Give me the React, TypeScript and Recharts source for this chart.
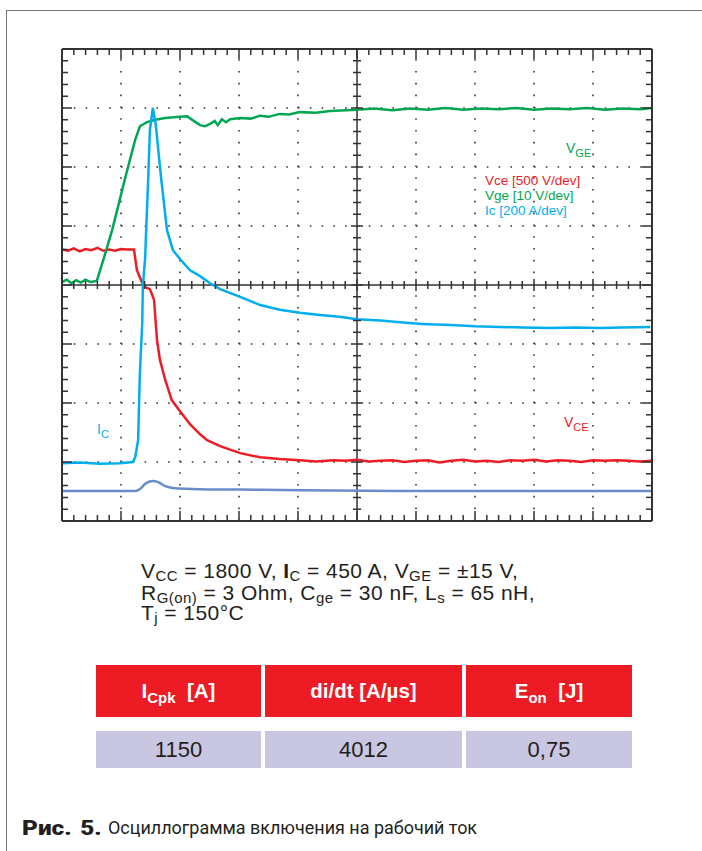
import React from "react";
import { LineChart, Line, XAxis, YAxis, ReferenceLine } from "recharts";

// Scope screen is read in divisions: 10 horizontal, 8 vertical (0 = bottom)
const vceTime = [0, 0.1, 0.2, 0.3, 0.4, 0.5, 0.6, 0.7, 0.8, 0.9, 1.0, 1.1, 1.22, 1.27, 1.34, 1.39, 1.44, 1.49, 1.56, 1.61, 1.66, 1.75, 1.86, 2.0, 2.17, 2.34, 2.46, 2.68, 3.02, 3.36, 3.69, 4.03, 4.3, 4.6, 4.8, 5.0, 5.2, 5.4, 5.6, 5.8, 6.0, 6.2, 6.4, 6.6, 6.8, 7.0, 7.2, 7.4, 7.6, 7.8, 8.0, 8.2, 8.4, 8.6, 8.8, 9.0, 9.2, 9.4, 9.6, 9.8, 10];
const vceDiv = [4.6, 4.58, 4.62, 4.57, 4.61, 4.59, 4.63, 4.58, 4.6, 4.58, 4.61, 4.6, 4.6, 4.25, 4.08, 3.98, 3.95, 3.93, 3.75, 3.07, 2.73, 2.39, 2.05, 1.86, 1.64, 1.47, 1.37, 1.27, 1.15, 1.08, 1.05, 1.03, 1.01, 1.03, 1.02, 1.04, 1.01, 1.02, 1.03, 1.0, 1.02, 1.03, 0.99, 1.02, 1.04, 1.01, 1.02, 1.0, 1.03, 1.02, 1.04, 1.01, 1.03, 1.02, 1.0, 1.03, 1.02, 1.03, 1.02, 1.01, 1.02];

const vgeTime = [0, 0.08, 0.16, 0.24, 0.32, 0.4, 0.48, 0.59, 0.69, 0.85, 1.07, 1.24, 1.32, 1.44, 1.58, 1.75, 2.0, 2.12, 2.22, 2.34, 2.42, 2.51, 2.59, 2.64, 2.71, 2.78, 2.85, 3.02, 3.2, 3.36, 3.5, 3.69, 3.85, 4.03, 4.3, 4.54, 5.0, 5.3, 5.6, 5.9, 6.2, 6.5, 6.8, 7.1, 7.4, 7.7, 8.0, 8.3, 8.6, 8.9, 9.2, 9.5, 9.8, 10];
const vgeDiv = [4.05, 4.09, 4.03, 4.08, 4.04, 4.09, 4.05, 4.07, 4.39, 4.93, 5.81, 6.46, 6.69, 6.76, 6.8, 6.83, 6.85, 6.86, 6.79, 6.71, 6.69, 6.73, 6.78, 6.71, 6.81, 6.76, 6.81, 6.83, 6.82, 6.87, 6.85, 6.9, 6.89, 6.93, 6.92, 6.95, 6.97, 6.99, 6.96, 6.99, 6.97, 7.0, 6.97, 6.99, 6.98, 7.0, 6.97, 6.99, 6.98, 7.0, 6.97, 6.99, 6.98, 7.0];

const icTime = [0, 0.3, 0.64, 0.98, 1.2, 1.24, 1.29, 1.32, 1.36, 1.37, 1.41, 1.42, 1.46, 1.49, 1.54, 1.59, 1.68, 1.78, 1.83, 1.88, 2.0, 2.17, 2.34, 2.51, 2.68, 3.02, 3.36, 3.69, 4.03, 4.37, 4.7, 5.0, 5.4, 5.73, 6.1, 6.58, 7.0, 7.42, 7.8, 8.27, 8.7, 9.12, 9.5, 9.97];
const icDiv = [0.98, 0.99, 0.97, 0.98, 1.0, 1.08, 1.37, 2.51, 3.36, 3.97, 4.47, 4.76, 5.78, 6.63, 7.0, 6.71, 5.81, 4.93, 4.76, 4.59, 4.44, 4.25, 4.15, 4.03, 3.93, 3.8, 3.66, 3.58, 3.53, 3.49, 3.46, 3.42, 3.4, 3.37, 3.34, 3.32, 3.3, 3.29, 3.28, 3.27, 3.28, 3.27, 3.28, 3.29];

const gateTime = [0, 1.24, 1.32, 1.41, 1.53, 1.63, 1.75, 1.88, 2.34, 3.36, 5.73, 10];
const gateDiv = [0.51, 0.51, 0.54, 0.63, 0.68, 0.66, 0.59, 0.56, 0.54, 0.53, 0.51, 0.51];

const xTicks = Array.from({ length: 51 }, (_, i) => +(i * 0.2).toFixed(1));
const yTicks = Array.from({ length: 41 }, (_, i) => +(i * 0.2).toFixed(1));
const xGrid = [1, 2, 3, 4, 6, 7, 8, 9];
const yGrid = [1, 2, 3, 5, 6, 7];

const toPoints = (t: number[], v: number[]) => t.map((x, i) => ({ t: x, v: v[i] }));

// plot box of the scope screen
const PL = 62, PT = 49, PW = 590, PH = 472;
const CW = 702, CH = 540;
const AX = 20; // room given to every axis
const M = { top: PT - AX, left: PL - AX, right: CW - PL - PW - AX, bottom: CH - PT - PH - AX };
const CX = PL + PW / 2;
const CY = PT + PH / 2;
const INK = "#333";

const RED = "#ee1c25";
const GREEN = "#00a651";
const CYAN = "#00aeef";
const SLATE = "#6b8cc9";

function makeTick(side: "bottom" | "top" | "left" | "right") {
  return (props: any) => {
    const { x, y, payload } = props;
    const val = payload.value;
    const major = Math.abs(val - Math.round(val)) < 1e-6;
    const len = major ? 10 : 6;
    const c = major ? 6 : 4;
    let d = "";
    if (side === "bottom") {
      d = `M${x},${y}V${y - len}`;
      if (val > 0 && val < 10) d += `M${x},${CY - c}V${CY + c}`;
    } else if (side === "top") {
      d = `M${x},${y}V${y + len}`;
    } else if (side === "left") {
      d = `M${x},${y}H${x + len}`;
      if (val > 0 && val < 8) d += `M${CX - c},${y}H${CX + c}`;
    } else {
      d = `M${x},${y}H${x - len}`;
    }
    return <path d={d} stroke={INK} strokeWidth={1.5} fill="none" />;
  };
}

const Sub = ({ children, size = "0.75em", drop = "-0.3em" }: any) => (
  <span style={{ fontSize: size, verticalAlign: drop, lineHeight: 0 }}>{children}</span>
);

function Scope() {
  const axisLine = { stroke: INK, strokeWidth: 2 };
  const common = { type: "number" as const, interval: 0 as const, tickSize: 0, tickMargin: 0, tickLine: false, axisLine, allowDataOverflow: true };
  return (
    <LineChart width={CW} height={CH} margin={M}>
      <XAxis {...common} xAxisId="b" dataKey="t" domain={[0, 10]} ticks={xTicks} height={AX} tick={makeTick("bottom")} />
      <XAxis {...common} xAxisId="t" orientation="top" dataKey="t" domain={[0, 10]} ticks={xTicks} height={AX} tick={makeTick("top")} />
      <YAxis {...common} yAxisId="l" domain={[0, 8]} ticks={yTicks} width={AX} tick={makeTick("left")} />
      <YAxis {...common} yAxisId="r" orientation="right" domain={[0, 8]} ticks={yTicks} width={AX} tick={makeTick("right")} />

      {xGrid.map((g) => (
        <ReferenceLine key={`gx${g}`} xAxisId="b" yAxisId="l" x={g} stroke={INK} strokeWidth={1.6} strokeDasharray="1.6 10.2" />
      ))}
      {yGrid.map((g) => (
        <ReferenceLine key={`gy${g}`} xAxisId="b" yAxisId="l" y={g} stroke={INK} strokeWidth={1.6} strokeDasharray="1.6 10.2" />
      ))}
      <ReferenceLine xAxisId="b" yAxisId="l" x={5} stroke={INK} strokeWidth={1.5} />
      <ReferenceLine xAxisId="b" yAxisId="l" y={4} stroke={INK} strokeWidth={1.5} />

      <Line xAxisId="t" yAxisId="r" data={toPoints(gateTime, gateDiv)} dataKey="v" type="monotone"
        stroke={SLATE} strokeWidth={2.5} dot={false} isAnimationActive={false} />
      <Line xAxisId="b" yAxisId="l" data={toPoints(vceTime, vceDiv)} dataKey="v" type="linear"
        stroke={RED} strokeWidth={2.5} dot={false} isAnimationActive={false} />
      <Line xAxisId="b" yAxisId="l" data={toPoints(vgeTime, vgeDiv)} dataKey="v" type="linear"
        stroke={GREEN} strokeWidth={2.5} dot={false} isAnimationActive={false} />
      <Line xAxisId="b" yAxisId="l" data={toPoints(icTime, icDiv)} dataKey="v" type="linear"
        stroke={CYAN} strokeWidth={2.5} dot={false} isAnimationActive={false} />
    </LineChart>
  );
}

const sans = "'Liberation Sans', Arial, sans-serif";

export default function App() {
  const abs = (left: number, top: number, extra: React.CSSProperties = {}): React.CSSProperties => ({
    position: "absolute", left, top, whiteSpace: "nowrap", ...extra,
  });
  const cellHead: React.CSSProperties = {
    position: "absolute", top: 665, height: 52, background: "#ed1c24", color: "#fff",
    fontFamily: sans, fontWeight: 700, fontSize: 20.5, display: "flex", alignItems: "center", justifyContent: "center",
  };
  const cellBody: React.CSSProperties = {
    position: "absolute", top: 731, height: 37, background: "#c9c6e1", color: "#231f20",
    fontFamily: sans, fontSize: 22, display: "flex", alignItems: "center", justifyContent: "center",
  };
  const params: React.CSSProperties = { fontFamily: sans, fontSize: 21, lineHeight: "21px", letterSpacing: "0.45px", color: "#231f20" };
  const ps = { size: "15px", drop: "-3px" };
  const legend: React.CSSProperties = { fontSize: 13.5, lineHeight: "15px" };
  const tag: React.CSSProperties = { fontSize: 14, lineHeight: "14px" };
  const caption: React.CSSProperties = { fontFamily: "Roboto, sans-serif", lineHeight: "20px", color: "#231f20" };

  return (
    <div style={{ position: "absolute", left: 0, top: 0, width: 702, height: 851, background: "#fff", overflow: "hidden", fontFamily: sans }}>
      <div style={{ position: "absolute", left: 6, top: 10, right: 0, bottom: 0, borderLeft: "1.5px solid #777", borderTop: "1.5px solid #777" }} />
      <div style={{ position: "absolute", left: 0, top: 0 }}>
        <Scope />
      </div>

      <div style={abs(566, 141, { ...tag, color: GREEN })}>V<Sub size="11px" drop="-4px">GE</Sub></div>
      <div style={abs(485, 173, { ...legend, color: RED })}>Vce [500 V/dev]</div>
      <div style={abs(485, 188, { ...legend, color: GREEN })}>Vge [10 V/dev]</div>
      <div style={abs(485, 203, { ...legend, color: CYAN })}>Ic [200 A/dev]</div>
      <div style={abs(97, 422, { ...tag, color: CYAN })}>I<Sub size="11px" drop="-4px">C</Sub></div>
      <div style={abs(564, 415, { ...tag, color: RED })}>V<Sub size="11px" drop="-4px">CE</Sub></div>

      <div style={abs(141, 560, params)}>
        V<Sub {...ps}>CC</Sub> = 1800 V, <b>I</b><Sub {...ps}>C</Sub> = 450 A, V<Sub {...ps}>GE</Sub> = ±15 V,
      </div>
      <div style={abs(141, 582, params)}>
        R<Sub {...ps}>G(on)</Sub> = 3 Ohm, C<Sub {...ps}>ge</Sub> = 30 nF, L<Sub {...ps}>s</Sub> = 65 nH,
      </div>
      <div style={abs(141, 602, params)}>
        T<Sub {...ps}>j</Sub> = 150°C
      </div>

      <div style={{ ...cellHead, left: 96, width: 165 }}>
        <span>I<Sub size="15px" drop="-5px">Cpk</Sub>&nbsp; [A]</span>
      </div>
      <div style={{ ...cellHead, left: 265, width: 197 }}>
        <span>di/dt [A/µs]</span>
      </div>
      <div style={{ ...cellHead, left: 466, width: 166 }}>
        <span>E<Sub size="15px" drop="-5px">on</Sub>&nbsp; [J]</span>
      </div>
      <div style={{ ...cellBody, left: 96, width: 165 }}>1150</div>
      <div style={{ ...cellBody, left: 265, width: 197 }}>4012</div>
      <div style={{ ...cellBody, left: 466, width: 166 }}>0,75</div>

      <div style={abs(22, 818, { ...caption, fontSize: 20, fontWeight: 900, wordSpacing: "2px", transform: "scaleX(1.22)", transformOrigin: "left center" })}>
        Рис. 5.
      </div>
      <div style={abs(108, 818, { ...caption, fontSize: 19, transform: "scaleX(0.945)", transformOrigin: "left center" })}>
        Осциллограмма включения на рабочий ток
      </div>
    </div>
  );
}
